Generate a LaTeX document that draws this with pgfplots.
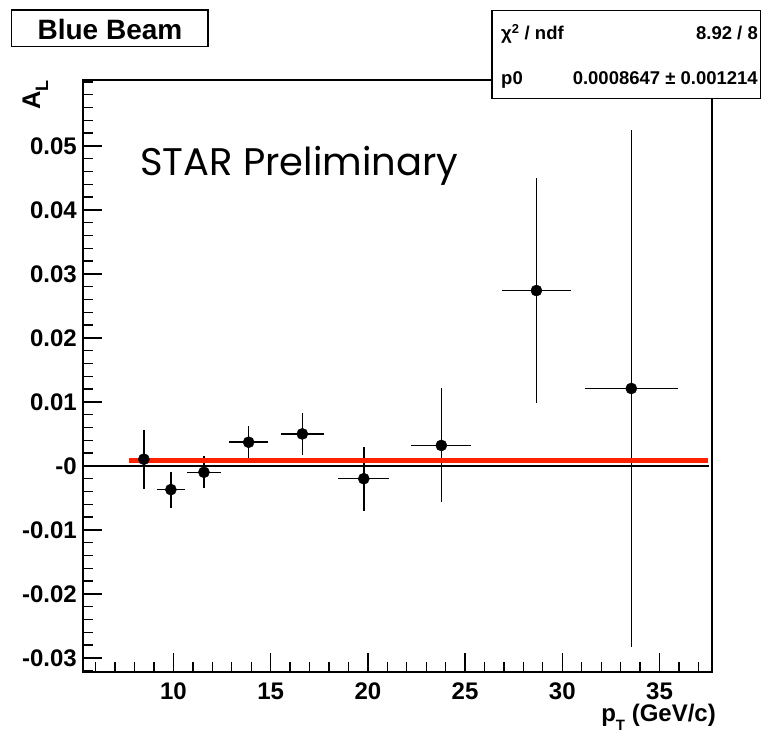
\documentclass[border=0pt]{standalone}
\usepackage{fontspec}
\setmainfont{Liberation Sans}
\newfontfamily\starfont{Poppins}
\usepackage{pgfplots}
\pgfplotsset{compat=1.18}
\usepackage{pgfplotstable}
\definecolor{fitred}{RGB}{255,34,0}
\pgfplotstableread{
x ex y ey
8.48 0.685 0.00105 0.0046
9.87 0.73 -0.0037 0.0028
11.57 0.89 -0.00099 0.0025
13.87 1.01 0.0037 0.0026
16.63 1.10 0.0050 0.0033
19.79 1.30 -0.0020 0.0050
23.78 1.55 0.0032 0.0089
28.67 1.79 0.0274 0.0176
33.55 2.40 0.0121 0.0404
}\data
\begin{document}
\begin{tikzpicture}[x=1pt,y=1pt]
\path[use as bounding box] (0,0) rectangle (761,734);
\begin{axis}[at={(83pt,62pt)}, anchor=south west, scale only axis,
  width=629pt, height=592pt,
  xmin=5.35, xmax=37.7, ymin=-0.0322, ymax=0.0603,
  axis line style={line width=1.5pt},
  tick pos=left, tick align=inside,
  major tick length=19pt, minor tick length=10pt,
  every tick/.style={black, line width=1.3pt},
  xtick={10,15,20,25,30,35}, xticklabels={10,15,20,25,30,35},
  ytick={-0.03,-0.02,-0.01,0,0.01,0.02,0.03,0.04,0.05},
  yticklabels={-0.03,-0.02,-0.01,-0,0.01,0.02,0.03,0.04,0.05},
  minor xtick={6,7,8,9,11,12,13,14,16,17,18,19,21,22,23,24,26,27,28,29,31,32,33,34,36,37},
  minor ytick={-0.032,-0.028,-0.026,-0.024,-0.022,-0.018,-0.016,-0.014,-0.012,-0.008,-0.006,-0.004,-0.002,0.002,0.004,0.006,0.008,0.012,0.014,0.016,0.018,0.022,0.024,0.026,0.028,0.032,0.034,0.036,0.038,0.042,0.044,0.046,0.048,0.052,0.054,0.056,0.058,0.060},
  scaled y ticks=false, scaled x ticks=false,
  ticklabel style={font=\fontsize{24}{24}\selectfont\bfseries, inner sep=0pt},
  xticklabel style={yshift=-11pt},
  yticklabel style={xshift=-6pt},
]
\addplot[black, line width=1.3pt] coordinates {(5.35,0) (37.55,0)};
\addplot[black, only marks, mark=*, mark size=5.6pt, mark options={fill=black},
  error bars/.cd, x dir=both, x explicit, y dir=both, y explicit, error mark=none,
  error bar style={line width=1.5pt, black}]
  table[x=x, y=y, x error=ex, y error=ey]{\data};
\addplot[fitred, line width=4.5pt] coordinates {(7.73,0.000865) (37.49,0.000865)};
\end{axis}
% Blue Beam box
\draw[line width=1.5pt] (11.7,687.3) rectangle (208,724);
\node[anchor=base, font=\fontsize{28}{28}\selectfont\bfseries, inner sep=0pt] at (110,694) {Blue Beam};
% stats box
\draw[line width=1.5pt, fill=white] (492,635.3) rectangle (760.3,723.3);
\node[anchor=base west, inner sep=0pt, font=\fontsize{18.5}{18.5}\selectfont\bfseries] at (501,694.4) {χ\textsuperscript{2} / ndf};
\node[anchor=base east, inner sep=0pt, font=\fontsize{18.5}{18.5}\selectfont\bfseries] at (758,694.4) {8.92 / 8};
\node[anchor=base west, inner sep=0pt, font=\fontsize{18.5}{18.5}\selectfont\bfseries] at (501,649.4) {p0};
\node[anchor=base east, inner sep=0pt, font=\fontsize{18.5}{18.5}\selectfont\bfseries] at (758,649.4) {0.0008647 ± 0.001214};
% STAR Preliminary
\node[anchor=base west, inner sep=0pt] at (140,558) {\resizebox{318pt}{!}{\starfont STAR Preliminary}};
% axis titles
\node[anchor=base east, inner sep=0pt, font=\fontsize{24}{24}\selectfont\bfseries] at (716,12.3) {p\raisebox{-0.38em}{\fontsize{15}{15}\selectfont T} (GeV/c)};
\node[rotate=90, anchor=base west, inner sep=0pt, font=\fontsize{25.5}{25.5}\selectfont\bfseries] at (40,624) {A\raisebox{-8pt}{\fontsize{18}{18}\selectfont L}};
\end{tikzpicture}
\end{document}
